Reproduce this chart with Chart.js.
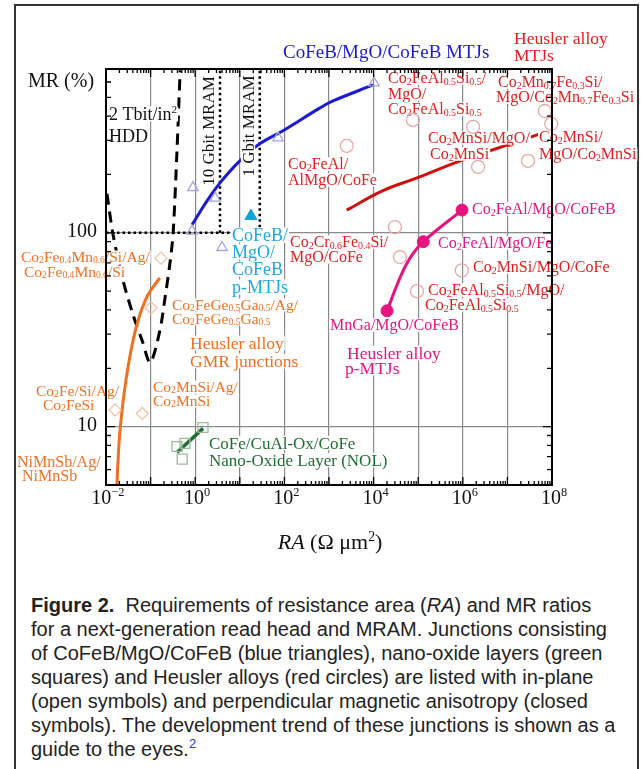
<!DOCTYPE html>
<html>
<head>
<meta charset="utf-8">
<script src="https://cdn.jsdelivr.net/npm/chart.js@4.4.1/dist/chart.umd.min.js"></script>
<style>
    html, body { margin: 0; padding: 0; background: #fff; }
    body { width: 644px; height: 769px; position: relative; overflow: hidden; }
    #frame { position: absolute; left: 14px; top: 4px; width: 621px; height: 820px; border: 2px solid #333; }
    #wrap { position: absolute; left: 0; top: 0; width: 644px; height: 570px; }
    #caption {
        position: absolute; left: 31px; top: 593px;
        font-family: "Liberation Sans", Arial, sans-serif; font-size: 20px; line-height: 24px;
        color: #222; white-space: nowrap;
    }
    #caption .ref { position: relative; top: -8px; font-size: 13px; color: #1a3be0; }
</style>
</head>
<body>
<div id="frame"></div>
<div id="wrap"><canvas id="chart" width="644" height="570"></canvas></div>
<div id="caption">
<b>Figure 2.</b>&nbsp; Requirements of resistance area (<i>RA</i>) and MR ratios<br>
for a next-generation read head and MRAM. Junctions consisting<br>
of CoFeB/MgO/CoFeB (blue triangles), nano-oxide layers (green<br>
squares) and Heusler alloys (red circles) are listed with in-plane<br>
(open symbols) and perpendicular magnetic anisotropy (closed<br>
symbols). The development trend of these junctions is shown as a<br>
guide to the eyes.<span class="ref">2</span>
</div>

<script>
// axis ranges and ticks
const xDecades = [1e-2, 1e-1, 1, 10, 100, 1e3, 1e4, 1e5, 1e6, 1e7, 1e8];
const xLabelExp = [-2, 0, 2, 4, 6, 8];
const yMajor = [10, 100];
const yLabels = ['10', '100'];

// CoFeB/MgO/CoFeB MTJs (blue)
const cofebLineRA = [0.85, 1.84, 3.6, 10, 28, 93, 628, 1230, 9770];
const cofebLineMR = [110, 146, 181, 235, 288, 336, 441, 479, 579];
const cofebOpenRA = [0.85, 0.89, 2.8, 4.0, 72, 10200];
const cofebOpenMR = [102, 171, 151, 84, 309, 593];
const cofebPmaRA = [17.8];
const cofebPmaMR = [122];

// Heusler alloy MTJs, in-plane (red)
const heuslerLineRA = [2500, 16200, 94000, 870000, 4.07e6, 5.4e7];
const heuslerLineMR = [131, 165, 192, 235, 265, 324];
const heuslerOpenRA = [2500, 76000, 1.7e6, 2.2e6, 2.9e7, 6.9e7, 9.6e7, 30000, 39000, 9.5e5, 94000];
const heuslerOpenMR = [281, 382, 352, 219, 235, 425, 365, 107, 75, 64, 50];

// Heusler alloy p-MTJs (magenta)
const pmtjLineRA = [20000, 39000, 65500, 130000, 960000];
const pmtjLineMR = [39.6, 58.6, 74, 90, 131];
const pmtjRA = [20000, 130000, 960000];
const pmtjMR = [39.6, 90, 131];

// Heusler alloy GMR junctions (orange)
const gmrLineRA = [0.0176, 0.0185, 0.021, 0.028, 0.045, 0.08, 0.16];
const gmrLineMR = [5, 6.5, 10, 17.3, 31, 46, 58.6];
const gmrOpenRA = [0.171, 0.102, 0.016, 0.065];
const gmrOpenMR = [74, 41, 12.2, 11.7];

// Nano-oxide layer (green)
const nolLineRA = [0.39, 1.5];
const nolLineMR = [7.35, 9.8];
const nolOpenRA = [0.39, 0.59, 0.51, 1.5];
const nolOpenMR = [7.9, 8.2, 6.8, 9.9];

// 2 Tbit/in2 HDD requirement
const hddRA = [0.0105, 0.0145, 0.024, 0.040, 0.065, 0.098, 0.16, 0.21, 0.27, 0.32, 0.39, 0.46];
const hddMR = [159, 97, 57, 38, 27.7, 21.4, 31, 46, 69, 100, 263, 690];

// MRAM requirements
const mram10gRA = [3.6, 3.6];
const mram10gMR = [100, 700];
const mram1gRA = [28, 28];
const mram1gMR = [100, 700];
const mramReqRA = [0.01, 28];
const mramReqMR = [100, 100];

const SERIF = '"Liberation Serif", "Times New Roman", serif';
const RED = '#e0201e', MAG = '#e6147e', CYAN = '#1fa9e1', ORANGE = '#f07020', GREEN = '#1e6e32', BLUE = '#1a1ad2';

const zip = (xs, ys) => xs.map((x, i) => ({ x: x, y: ys[i] }));

function curve(xs, ys, color, width, extra) {
    return Object.assign({
        data: zip(xs, ys), showLine: true, borderColor: color, borderWidth: width,
        pointRadius: 0, tension: 0.4, fill: false, order: 5,
    }, extra || {});
}

function markers(xs, ys, style, color, filled, radius) {
    return {
        data: zip(xs, ys), showLine: false, pointStyle: style, pointRadius: radius,
        borderColor: color, backgroundColor: filled ? color : 'rgba(0,0,0,0)',
        pointBorderWidth: filled ? 1 : 1.3, order: filled ? 1 : 2, clip: false,
    };
}

// text annotations (canvas px); markup: _{sub} ^{sup} *{italic}
const notes = [
    { t: 'CoFeB/MgO/CoFeB MTJs', x: 283, y: 52, s: 19, c: BLUE },
    { t: 'Heusler alloy', x: 514, y: 38, s: 17.5, c: RED },
    { t: 'MTJs', x: 514, y: 55, s: 17.5, c: RED },
    { t: 'Co_{2}FeAl_{0.5}Si_{0.5}/', x: 388, y: 78, s: 16, c: RED },
    { t: 'MgO/', x: 388, y: 94, s: 16, c: RED },
    { t: 'Co_{2}FeAl_{0.5}Si_{0.5}', x: 388, y: 109, s: 16, c: RED },
    { t: 'Co_{2}Mn_{0.7}Fe_{0.3}Si/', x: 498, y: 82, s: 16, c: RED },
    { t: 'MgO/Co_{2}Mn_{0.7}Fe_{0.3}Si', x: 496, y: 97, s: 16, c: RED },
    { t: 'Co_{2}MnSi/MgO/', x: 428, y: 138, s: 16, c: RED },
    { t: 'Co_{2}MnSi', x: 430, y: 154, s: 16, c: RED },
    { t: 'Co_{2}MnSi/', x: 539, y: 137, s: 16, c: RED },
    { t: 'MgO/Co_{2}MnSi', x: 539, y: 154, s: 16, c: RED },
    { t: 'Co_{2}FeAl/', x: 288, y: 164, s: 16, c: RED },
    { t: 'AlMgO/CoFe', x: 288, y: 180, s: 16, c: RED },
    { t: 'Co_{2}FeAl/MgO/CoFeB', x: 472, y: 209, s: 16, c: MAG },
    { t: 'Co_{2}Cr_{0.6}Fe_{0.4}Si/', x: 290, y: 242, s: 16, c: RED },
    { t: 'MgO/CoFe', x: 290, y: 257, s: 16, c: RED },
    { t: 'Co_{2}FeAl/MgO/Fe', x: 438, y: 243, s: 16, c: MAG },
    { t: 'Co_{2}MnSi/MgO/CoFe', x: 473, y: 267, s: 16, c: RED },
    { t: 'Co_{2}FeAl_{0.5}Si_{0.5}/MgO/', x: 428, y: 290, s: 16, c: RED },
    { t: 'Co_{2}FeAl_{0.5}Si_{0.5}', x: 425, y: 305, s: 16, c: RED },
    { t: 'MnGa/MgO/CoFeB', x: 330, y: 325, s: 16, c: MAG },
    { t: 'Heusler alloy', x: 347, y: 353, s: 17.5, c: MAG },
    { t: 'p-MTJs', x: 345, y: 368, s: 17.5, c: MAG },
    { t: 'CoFeB/', x: 232, y: 235, s: 18, c: CYAN },
    { t: 'MgO/', x: 232, y: 252, s: 18, c: CYAN },
    { t: 'CoFeB', x: 232, y: 269, s: 18, c: CYAN },
    { t: 'p-MTJs', x: 232, y: 287, s: 18, c: CYAN },
    { t: 'Co_{2}Fe_{0.4}Mn_{0.6}/Si/Ag/', x: 21, y: 257, s: 15.5, c: ORANGE },
    { t: 'Co_{2}Fe_{0.4}Mn_{0.6}/Si', x: 24, y: 272, s: 15.5, c: ORANGE },
    { t: 'Co_{2}FeGe_{0.5}Ga_{0.5}/Ag/', x: 172, y: 305, s: 15.5, c: ORANGE },
    { t: 'Co_{2}FeGe_{0.5}Ga_{0.5}', x: 172, y: 319, s: 15.5, c: ORANGE },
    { t: 'Heusler alloy', x: 190, y: 343, s: 17.5, c: ORANGE },
    { t: 'GMR junctions', x: 190, y: 361, s: 17.5, c: ORANGE },
    { t: 'Co_{2}Fe/Si/Ag/', x: 36, y: 391, s: 15.5, c: ORANGE },
    { t: 'Co_{2}FeSi', x: 43, y: 405, s: 15.5, c: ORANGE },
    { t: 'Co_{2}MnSi/Ag/', x: 153, y: 387, s: 15.5, c: ORANGE },
    { t: 'Co_{2}MnSi', x: 153, y: 401, s: 15.5, c: ORANGE },
    { t: 'NiMnSb/Ag/', x: 17, y: 462, s: 16, c: ORANGE },
    { t: 'NiMnSb', x: 22, y: 476, s: 16, c: ORANGE },
    { t: 'CoFe/CuAl-Ox/CoFe', x: 209, y: 443, s: 17, c: GREEN },
    { t: 'Nano-Oxide Layer (NOL)', x: 209, y: 460, s: 17, c: GREEN },
    { t: '2 Tbit/in^{2}', x: 109, y: 114, s: 18, c: '#111' },
    { t: 'HDD', x: 109, y: 136, s: 18, c: '#111' },
    { t: '10 Gbit MRAM', x: 208, y: 131, s: 17, c: '#111', rot: true },
    { t: '1 Gbit MRAM', x: 248, y: 126, s: 17, c: '#111', rot: true },
    { t: 'MR (%)', x: 28, y: 80, s: 20, c: '#111' },
    { t: '*{RA} (Ω μm^{2})', x: 330, y: 542, s: 22, c: '#111', align: 'center' },
];

function parseRich(str) {
    const parts = str.split(/(_\{[^}]*\}|\^\{[^}]*\}|\*\{[^}]*\})/).filter(p => p.length);
    return parts.map(p => {
        if (p.startsWith('_{')) return { t: p.slice(2, -1), k: 'sub' };
        if (p.startsWith('^{')) return { t: p.slice(2, -1), k: 'sup' };
        if (p.startsWith('*{')) return { t: p.slice(2, -1), k: 'it' };
        return { t: p, k: 'n' };
    });
}

function drawRich(ctx, str, x, y, size, color, align, bg) {
    const segs = parseRich(str);
    let w = 0;
    segs.forEach(sg => {
        const sz = sg.k === 'sub' || sg.k === 'sup' ? size * 0.62 : size;
        sg.font = (sg.k === 'it' ? 'italic ' : '') + sz + 'px ' + SERIF;
        sg.dy = sg.k === 'sub' ? size * 0.08 : sg.k === 'sup' ? -size * 0.38 : 0;
        ctx.font = sg.font;
        sg.w = ctx.measureText(sg.t).width;
        w += sg.w;
    });
    let sx = align === 'center' ? x - w / 2 : align === 'right' ? x - w : x;
    const base = y + size * 0.33;
    if (bg) {
        ctx.fillStyle = '#fff';
        ctx.fillRect(sx - 1, y - size * 0.42, w + 2, size * 0.84);
    }
    ctx.fillStyle = color;
    ctx.textBaseline = 'alphabetic';
    ctx.textAlign = 'left';
    segs.forEach(sg => {
        ctx.font = sg.font;
        ctx.fillText(sg.t, sx, base + sg.dy);
        sx += sg.w;
    });
}

const decor = {
    id: 'decor',
    // labels sit on white boxes above the guide lines, below the symbols
    afterDatasetDraw(chart, args) {
        if (args.index !== 0) return;
        const ctx = chart.ctx;
        ctx.save();
        notes.forEach(n => {
            if (n.rot) {
                ctx.save();
                ctx.translate(n.x, n.y);
                ctx.rotate(-Math.PI / 2);
                drawRich(ctx, n.t, 0, 0, n.s, n.c, 'center', true);
                ctx.restore();
            } else {
                drawRich(ctx, n.t, n.x, n.y, n.s, n.c, n.align || 'left', true);
            }
        });
        ctx.restore();
    },
    afterDraw(chart) {
        const ctx = chart.ctx;
        const a = chart.chartArea;
        const xs = chart.scales.x, ys = chart.scales.y;
        ctx.save();

        // minor / major ticks on all four sides, pointing inwards
        ctx.strokeStyle = '#000';
        ctx.lineWidth = 1.3;
        ctx.beginPath();
        for (let e = -2; e <= 8; e++) {
            for (let k = 1; k <= 9; k++) {
                const v = k * Math.pow(10, e);
                if (v > 1e8 * 1.0001) break;
                const px = xs.getPixelForValue(v);
                const len = k === 1 ? 8 : 4;
                ctx.moveTo(px, a.bottom); ctx.lineTo(px, a.bottom - len);
                ctx.moveTo(px, a.top); ctx.lineTo(px, a.top + len);
            }
        }
        for (let e = 0; e <= 2; e++) {
            for (let k = 1; k <= 9; k++) {
                const v = k * Math.pow(10, e);
                if (v < ys.min || v > ys.max) continue;
                const py = ys.getPixelForValue(v);
                const len = k === 1 ? 9 : 5;
                ctx.moveTo(a.left, py); ctx.lineTo(a.left + len, py);
                ctx.moveTo(a.right, py); ctx.lineTo(a.right - len, py);
            }
        }
        ctx.stroke();

        // plot box
        ctx.lineWidth = 2;
        ctx.strokeRect(a.left, a.top, a.right - a.left, a.bottom - a.top);

        // tick labels
        xLabelExp.forEach(e => {
            const px = xs.getPixelForValue(Math.pow(10, e));
            const exp = e < 0 ? '\u2212' + (-e) : String(e);
            ctx.font = '20px ' + SERIF;
            const w1 = ctx.measureText('10').width;
            ctx.font = '12.5px ' + SERIF;
            const w2 = ctx.measureText(exp).width;
            const sx = px - (w1 + w2) / 2 + 2;
            drawRich(ctx, '10^{' + exp + '}', sx, 497, 20, '#111', 'left');
        });
        yMajor.forEach((v, i) => {
            drawRich(ctx, yLabels[i], 97, ys.getPixelForValue(v) - 2, 20, '#111', 'right');
        });
        ctx.restore();
    },
};

const datasets = [
    curve(cofebLineRA, cofebLineMR, BLUE, 3),
    curve(heuslerLineRA, heuslerLineMR, '#d0100e', 3),
    curve(pmtjLineRA, pmtjLineMR, MAG, 3),
    curve(gmrLineRA, gmrLineMR, ORANGE, 3),
    curve(nolLineRA, nolLineMR, GREEN, 3.5, { tension: 0 }),
    curve(hddRA, hddMR, '#000', 3, { borderDash: [11, 7], tension: 0.3 }),
    curve(mram10gRA, mram10gMR, '#000', 2.5, { borderDash: [2.5, 3], tension: 0 }),
    curve(mram1gRA, mram1gMR, '#000', 2.5, { borderDash: [2.5, 3], tension: 0 }),
    curve(mramReqRA, mramReqMR, '#000', 2.5, { borderDash: [2.5, 3], tension: 0 }),
    markers(cofebOpenRA, cofebOpenMR, 'triangle', '#a4a4e2', false, 6),
    markers(cofebPmaRA, cofebPmaMR, 'triangle', '#11a3dc', true, 7),
    markers(heuslerOpenRA, heuslerOpenMR, 'circle', '#e8a8a8', false, 6.5),
    markers(pmtjRA, pmtjMR, 'circle', MAG, true, 6),
    markers(gmrOpenRA, gmrOpenMR, 'rectRot', '#f2c2a2', false, 6),
    markers(nolOpenRA, nolOpenMR, 'rect', '#9ab89a', false, 7),
];

new Chart(document.getElementById('chart').getContext('2d'), {
    type: 'scatter',
    data: { datasets: datasets },
    options: {
        responsive: false,
        animation: false,
        devicePixelRatio: 1,
        layout: { padding: { left: 106, top: 69, right: 92, bottom: 85 } },
        plugins: { legend: { display: false }, tooltip: { enabled: false } },
        scales: {
            x: {
                type: 'logarithmic', min: 1e-2, max: 1e8,
                ticks: { display: false },
                grid: { color: '#8a8a8a', lineWidth: 1.2, drawTicks: false },
                border: { display: false },
                afterBuildTicks: s => { s.ticks = xDecades.map(v => ({ value: v })); },
                afterFit: s => { s.height = 0; },
            },
            y: {
                type: 'logarithmic', min: 5, max: 700,
                ticks: { display: false },
                grid: { color: '#8a8a8a', lineWidth: 1.2, drawTicks: false },
                border: { display: false },
                afterBuildTicks: s => { s.ticks = yMajor.map(v => ({ value: v })); },
                afterFit: s => { s.width = 0; },
            },
        },
    },
    plugins: [decor],
});
</script>
</body>
</html>
